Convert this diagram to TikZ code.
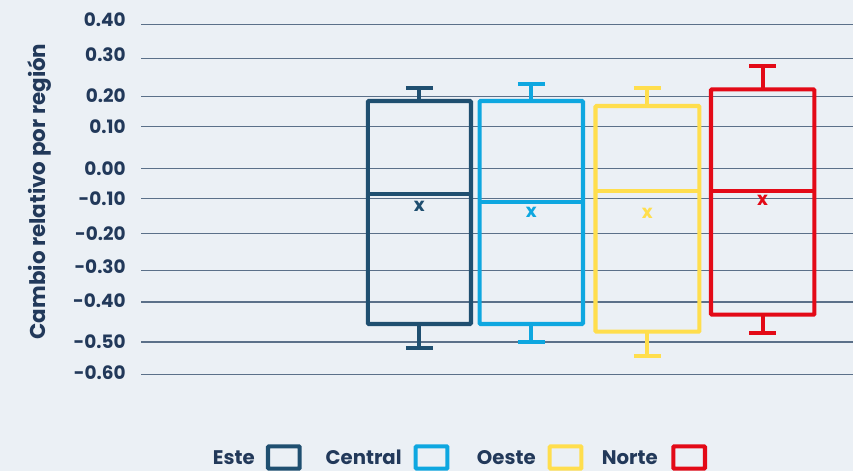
\documentclass[tikz,border=0pt]{standalone}
\usepackage{fontspec}
\setmainfont{Poppins}
\definecolor{fondo}{HTML}{EBF0F5}
\definecolor{tinta}{HTML}{22395A}
\definecolor{rejilla}{HTML}{5B7089}
\definecolor{este}{HTML}{1F4F70}
\definecolor{central}{HTML}{0EA7E0}
\definecolor{oeste}{HTML}{FFDE4D}
\definecolor{norte}{HTML}{E30A17}
\begin{document}
\begin{tikzpicture}[scale=0.2]
	\tikzstyle{every node}+=[inner sep=0pt, text=tinta, font=\fontsize{10.5}{12}\selectfont\bfseries]
	\tikzstyle{grid}=[rejilla, line width=0.6pt]
	\tikzstyle{boxline}=[line width=2.3pt, rounded corners=0.5pt]
	\tikzstyle{whisker}=[line width=2.3pt]
	\tikzstyle{legendtext}=[anchor=east, font=\fontsize{11.2}{13}\selectfont\bfseries]
	\useasboundingbox (0,0) rectangle (85.3,-47.1);
	\fill [fondo] (0,0) rectangle (85.3,-47.1);
	% rejilla y etiquetas del eje
	\foreach \y/\ty/\lab in {2.47/2.0/0.40, 5.87/5.5/0.30, 9.67/9.57/0.20, 12.67/12.67/0.10,
			16.83/16.83/0.00, 19.87/19.87/-0.10, 23.33/23.33/-0.20, 27.03/26.7/-0.30,
			30.2/30.1/-0.40, 34.2/34.2/-0.50, 37.47/37.3/-0.60}
	{
		\draw [grid] (14.1,-\y) -- (85.3,-\y);
		\draw (12.6,-\ty) node [anchor=east] {\lab};
	}
	\draw (4.0,-19.15) node [rotate=90, font=\fontsize{12.2}{14}\selectfont\bfseries] {Cambio relativo por región};
	% cajas
	\foreach \c/\xl/\xr/\yt/\yb/\ym/\wt/\wb/\mn in {
			este/36.78/47.1/10.1/32.4/19.37/8.77/34.77/20.67,
			central/47.97/58.3/10.1/32.4/20.17/8.4/34.17/21.27,
			oeste/59.55/69.93/10.6/33.17/19.1/8.83/35.6/21.33,
			norte/71.1/81.43/8.93/31.47/19.07/6.57/33.33/20.07}
	{
		\pgfmathsetmacro{\xc}{(\xl+\xr)/2}
		\draw [\c, boxline] (\xl,-\yt) rectangle (\xr,-\yb);
		\draw [\c, whisker] (\xl,-\ym) -- (\xr,-\ym);
		\draw [\c, whisker] (\xc,-\yt) -- (\xc,-\wt);
		\draw [\c, whisker] (\xc-1.35,-\wt) -- (\xc+1.35,-\wt);
		\draw [\c, whisker] (\xc,-\yb) -- (\xc,-\wb);
		\draw [\c, whisker] (\xc-1.35,-\wb) -- (\xc+1.35,-\wb);
		\draw (\xc,-\mn) node [text=\c] {x};
	}
	% leyenda
	\foreach \c/\lab/\xt/\xb in {este/Este/25.5/26.8, central/Central/40.2/41.57,
			oeste/Oeste/53.6/54.97, norte/Norte/65.8/67.33}
	{
		\draw (\xt,-45.73) node [legendtext] {\lab};
		\draw [\c, boxline] (\xb,-44.63) rectangle (\xb+3.17,-46.87);
	}
\end{tikzpicture}
\end{document}
